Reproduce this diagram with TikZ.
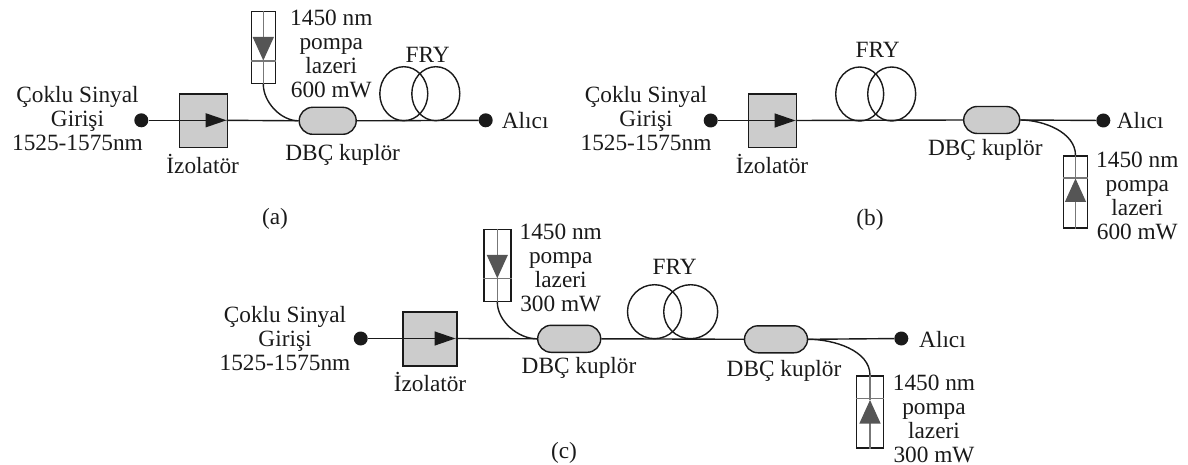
\documentclass[tikz,border=0pt]{standalone}
\usepackage{fontspec}
\setmainfont{Liberation Serif}
\usetikzlibrary{arrows.meta,shapes.geometric,shapes.misc}
\definecolor{ink}{HTML}{1A1A1A}
\definecolor{boxgray}{HTML}{CCCCCC}
\definecolor{lasergray}{HTML}{777777}
\definecolor{tipgray}{HTML}{555555}
\tikzset{
  lbl/.style={font=\fontsize{23.3}{24}\selectfont,align=center,inner sep=0pt,text=ink},
  enddot/.style={circle,fill=ink,draw=none,minimum size=14pt,inner sep=0pt},
  isobox/.style={rectangle,draw=ink,line width=1.4pt,fill=boxgray,minimum width=48pt,minimum height=53.5pt,inner sep=0pt},
  coupler/.style={rounded rectangle,draw=ink,line width=1.4pt,fill=boxgray,minimum height=27pt,inner sep=0pt},
  coil/.style={ellipse,draw=ink,line width=1.4pt,minimum height=54pt,inner sep=0pt},
  lasercase/.style={rectangle,draw=ink,line width=1.4pt,minimum width=24pt,minimum height=72pt,inner sep=0pt},
  fiber/.style={draw=ink,line width=1.4pt},
  sigarrow/.style={fiber,-{Triangle[length=21pt,width=14pt]}},
  laserline/.style={draw=lasergray,line width=1.2pt},
  pumparrow/.style={laserline,-{Triangle[length=23.5pt,width=21pt,color=tipgray]}},
}
\begin{document}
\begin{tikzpicture}[x=1pt,y=-1pt]
\useasboundingbox (0,0) rectangle (1188,465);
% ---------- (a)
\node[isobox] (isoa) at (203.5,120.8) {};
\node[enddot] (ina) at (141.3,120.3) {};
\node[enddot] (outa) at (485.7,120.3) {};
\node[coupler,minimum width=57pt] (ca) at (327.7,120.8) {};
\node[coil,minimum width=48pt] (fa1) at (403.8,93.7) {};
\node[coil,minimum width=48pt] (fa2) at (435.8,93.7) {};
\coordinate (tipa) at (226.5,120.3);
\draw[sigarrow] (ina) -- (tipa);
\draw[fiber] (tipa) -- (ca.west);
\draw[fiber] (ca.east) -- (outa);
\node[lasercase] (la) at (263.3,47.5) {};
\coordinate (lax) at (263.3,60.5);
\draw[laserline] (la.west |- 0,61) -- (la.east |- 0,61);
\draw[pumparrow] (la.north) -- (lax);
\draw[laserline] (lax) -- (la.south);
\draw[fiber] (la.south) to[out=-90,in=180,looseness=0.9] (ca.west);
\node[lbl] (ta1) at (331.3,53.5) {1450 nm\\pompa\\lazeri\\600 mW};
\node[lbl] (ta2) at (427.7,55) {FRY};
\node[lbl] (ta3) at (77.5,119) {Çoklu Sinyal\\Girişi\\1525-1575nm};
\node[lbl] (ta4) at (202.7,164) {İzolatör};
\node[lbl] (ta5) at (342.7,155) {DBÇ kuplör};
\node[lbl,anchor=west] (ta6) at (501.7,121) {Alıcı};
\node[lbl] (ta7) at (275,218.5) {(a)};
% ---------- (b)
\node[isobox] (isob) at (772.3,120.8) {};
\node[enddot] (inb) at (710.7,120.5) {};
\node[enddot] (outb) at (1103.3,120.5) {};
\node[coupler,minimum width=56pt] (cb) at (991.7,120) {};
\node[coil,minimum width=48pt] (fb1) at (859.7,94) {};
\node[coil,minimum width=48pt] (fb2) at (891.7,94) {};
\coordinate (tipb) at (795.5,120.5);
\draw[sigarrow] (inb) -- (tipb);
\draw[fiber] (tipb) -- (cb.west);
\draw[fiber] (cb.east) -- (outb);
\node[lasercase] (lb) at (1075.5,192) {};
\coordinate (lbx) at (1075.5,178.5);
\draw[laserline] (lb.west |- 0,178) -- (lb.east |- 0,178);
\draw[pumparrow] (lb.south) -- (lbx);
\draw[laserline] (lbx) -- (lb.north);
\draw[fiber] (lb.north) to[out=90,in=0,looseness=0.9] (cb.east);
\node[lbl] (tb1) at (1137.3,195.5) {1450 nm\\pompa\\lazeri\\600 mW};
\node[lbl] (tb2) at (877.7,50) {FRY};
\node[lbl] (tb3) at (646,119) {Çoklu Sinyal\\Girişi\\1525-1575nm};
\node[lbl] (tb4) at (772,164) {İzolatör};
\node[lbl] (tb5) at (985.3,150) {DBÇ kuplör};
\node[lbl,anchor=west] (tb6) at (1116.7,120.5) {Alıcı};
\node[lbl] (tb7) at (870,219.5) {(b)};
% ---------- (c)
\node[isobox,minimum width=54pt,minimum height=54pt] (isoc) at (430,339) {};
\node[enddot] (inc) at (360.7,338.5) {};
\node[enddot] (outc) at (901.3,338.5) {};
\node[coupler,minimum width=63pt] (cc1) at (569.2,338.8) {};
\node[coupler,minimum width=63pt] (cc2) at (776,339.3) {};
\node[coil,minimum width=54pt] (fc1) at (654.5,311.7) {};
\node[coil,minimum width=54pt] (fc2) at (690.7,311.7) {};
\coordinate (tipc) at (455.5,338.5);
\draw[sigarrow] (inc) -- (tipc);
\draw[fiber] (tipc) -- (cc1.west);
\draw[fiber] (cc1.east) -- (cc2.west);
\draw[fiber] (cc2.east) -- (outc);
\node[lasercase,minimum width=27pt] (lc1) at (497.3,265.3) {};
\coordinate (lc1x) at (497.3,278.3);
\draw[laserline] (lc1.west |- 0,278.7) -- (lc1.east |- 0,278.7);
\draw[pumparrow] (lc1.north) -- (lc1x);
\draw[laserline] (lc1x) -- (lc1.south);
\draw[fiber] (lc1.south) to[out=-90,in=180,looseness=0.9] (cc1.west);
\node[lasercase,minimum width=27pt] (lc2) at (870,412) {};
\coordinate (lc2x) at (870,400);
\draw[laserline] (lc2.west |- 0,398.7) -- (lc2.east |- 0,398.7);
\draw[pumparrow] (lc2.south) -- (lc2x);
\draw[laserline] (lc2x) -- (lc2.north);
\draw[fiber] (lc2.north) to[out=90,in=0,looseness=0.9] (cc2.east);
\node[lbl] (tc1) at (560.7,267.5) {1450 nm\\pompa\\lazeri\\300 mW};
\node[lbl] (tc2) at (674.7,266.7) {FRY};
\node[lbl] (tc3) at (285,339) {Çoklu Sinyal\\Girişi\\1525-1575nm};
\node[lbl] (tc4) at (430,382) {İzolatör};
\node[lbl] (tc5) at (579,367.7) {DBÇ kuplör};
\node[lbl] (tc6) at (784,370.7) {DBÇ kuplör};
\node[lbl] (tc7) at (934,418.5) {1450 nm\\pompa\\lazeri\\300 mW};
\node[lbl,anchor=west] (tc8) at (919,340) {Alıcı};
\node[lbl] (tc9) at (564,453) {(c)};
\end{tikzpicture}
\end{document}
